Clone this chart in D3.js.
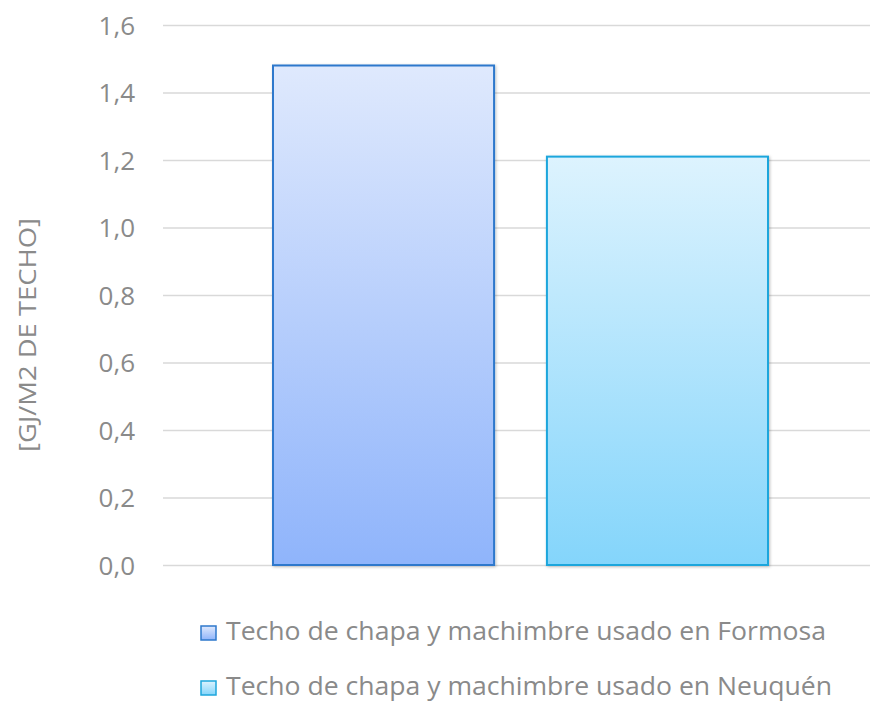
<!DOCTYPE html>
<html>
<head>
<meta charset="utf-8">
<script src="https://cdn.jsdelivr.net/npm/d3@7/dist/d3.min.js"></script>
<style>
  html, body { margin: 0; padding: 0; background: #fff; }
  svg { display: block; }
  text { font-family: "Open Sans", "DejaVu Sans", sans-serif; }
</style>
</head>
<body>
<svg id="chart" width="870" height="702"></svg>
<script>
const seriesNames = [
  "Techo de chapa y machimbre usado en Formosa",
  "Techo de chapa y machimbre usado en Neuquén"
];
const seriesValues = [1.48, 1.21];
const tickValues = [0, 0.2, 0.4, 0.6, 0.8, 1.0, 1.2, 1.4, 1.6];
const yTitle = "[GJ/M2 DE TECHO]";

const fills = [
  { top: "#dfe9fd", bottom: "#8fb4fb", stroke: "#2e78cc" },
  { top: "#ddf3fe", bottom: "#84d5fb", stroke: "#1ea6dc" }
];

const svg = d3.select("#chart");
const plot = { left: 163, right: 878, top: 25, bottom: 565 };

const y = d3.scaleLinear().domain([0, 1.6]).range([plot.bottom, plot.top]);
const x = d3.scaleBand().domain(seriesNames).range([273, 768]).paddingInner(0.193);

const defs = svg.append("defs");
fills.forEach((f, i) => {
  const g = defs.append("linearGradient").attr("id", "g" + i)
    .attr("x1", 0).attr("y1", 0).attr("x2", 0).attr("y2", 1);
  g.append("stop").attr("offset", "0%").attr("stop-color", f.top);
  g.append("stop").attr("offset", "100%").attr("stop-color", f.bottom);
});
const flt = defs.append("filter").attr("id", "shadow")
  .attr("x", "-10%").attr("y", "-10%").attr("width", "120%").attr("height", "120%");
flt.append("feDropShadow").attr("dx", 1).attr("dy", 1).attr("stdDeviation", 1.5)
  .attr("flood-color", "#000").attr("flood-opacity", 0.25);

// gridlines & y tick labels
const yAxis = d3.axisLeft(y).tickValues(tickValues)
  .tickFormat(d => d3.format(".1f")(d).replace(".", ","))
  .tickSize(-(plot.right - plot.left)).tickPadding(28);
const ga = svg.append("g").attr("transform", `translate(${plot.left},0)`).call(yAxis);
ga.select(".domain").remove();
ga.selectAll(".tick line").attr("stroke", "#d9d9d9").attr("stroke-width", 1.5);
ga.selectAll(".tick text").attr("fill", "#8a8a8a").attr("font-size", 26).attr("dy", "0.36em");

// bars
svg.append("g").selectAll("rect").data(seriesValues).join("rect")
  .attr("x", (d, i) => x(seriesNames[i]))
  .attr("y", d => y(d))
  .attr("width", x.bandwidth())
  .attr("height", d => y(0) - y(d))
  .attr("fill", (d, i) => `url(#g${i})`)
  .attr("stroke", (d, i) => fills[i].stroke)
  .attr("stroke-width", 2)
  .attr("filter", "url(#shadow)");

// y axis title
svg.append("text")
  .attr("transform", "translate(36,335) rotate(-90)")
  .attr("text-anchor", "middle")
  .attr("fill", "#8a8a8a")
  .attr("font-size", 24)
  .attr("textLength", 234)
  .attr("lengthAdjust", "spacingAndGlyphs")
  .text(yTitle);

// legend
const legendY = [640, 695];
const legendW = [600, 606];
const lg = svg.append("g");
seriesNames.forEach((name, i) => {
  lg.append("rect")
    .attr("x", 201).attr("y", legendY[i] - 14)
    .attr("width", 15).attr("height", 14)
    .attr("fill", `url(#g${i})`)
    .attr("stroke", fills[i].stroke).attr("stroke-width", 1.5);
  lg.append("text")
    .attr("x", 226).attr("y", legendY[i])
    .attr("fill", "#8a8a8a").attr("font-size", 25)
    .attr("textLength", legendW[i])
    .attr("lengthAdjust", "spacingAndGlyphs")
    .text(name);
});
</script>
</body>
</html>
